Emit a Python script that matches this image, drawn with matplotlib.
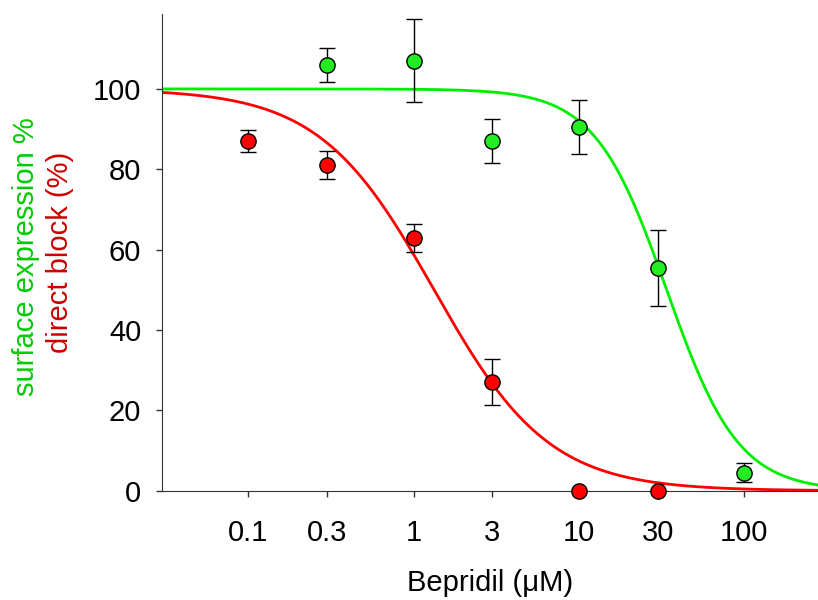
import numpy as np
import matplotlib.pyplot as plt

plt.rcParams['font.family'] = ['Liberation Sans', 'DejaVu Sans']

# concentrations (uM)
conc_green = [0.3, 1, 3, 10, 30, 100]
surface = [106, 107, 87, 90.5, 55.5, 4.5]
surface_err = [4.3, 10.3, 5.5, 6.7, 9.5, 2.3]

conc_red = [0.1, 0.3, 1, 3, 10, 30]
block = [87, 81, 63, 27, 0, 0]
block_err = [2.7, 3.5, 3.5, 5.7, 0, 0]

tick_vals = [0.1, 0.3, 1, 3, 10, 30, 100]
tick_labels = ['0.1', '0.3', '1', '3', '10', '30', '100']

# fitted Hill curves (IC50, slope)
fit_green = (34.0, 2.0)
fit_red = (1.33, 1.25)


def hill(x, ic50, n):
    return 100.0 / (1.0 + (x / ic50) ** n)


fig = plt.figure(figsize=(8.18, 6), dpi=100)
ax = fig.add_axes([0.198, 0.182, 0.802, 0.795])

xx = np.logspace(np.log10(0.03), np.log10(300), 400)
ax.plot(xx, hill(xx, *fit_green), color='#00ee00', lw=2, zorder=2)
ax.plot(xx, hill(xx, *fit_red), color='#ff0000', lw=2, zorder=2)

ax.errorbar(conc_green, surface, yerr=surface_err, fmt='none', ecolor='black',
            elinewidth=1, capsize=5.5, capthick=1, zorder=3)
ax.errorbar(conc_red, block, yerr=block_err, fmt='none', ecolor='black',
            elinewidth=1, capsize=5.5, capthick=1, zorder=3)
ax.plot(conc_green, surface, 'o', ms=11, mfc='#22ee22', mec='black', mew=1, zorder=4, clip_on=False)
ax.plot(conc_red, block, 'o', ms=11, mfc='#ff0000', mec='black', mew=1, zorder=4, clip_on=False)

ax.set_xscale('log')
ax.set_xlim(0.03, 280)
ax.set_ylim(0, 118.7)
ax.set_xticks(tick_vals)
ax.set_xticklabels(tick_labels)
ax.minorticks_off()
ax.set_yticks([0, 20, 40, 60, 80, 100])
ax.tick_params(labelsize=21, length=4, width=1, color='#333333')
ax.tick_params(axis='x', pad=16)
ax.tick_params(axis='y', pad=11)

for s in ['top', 'right']:
    ax.spines[s].set_visible(False)
for s in ['left', 'bottom']:
    ax.spines[s].set_color('#333333')

ax.set_xlabel('Bepridil (\u03bcM)', fontsize=21, labelpad=16)
fig.text(0.032, 0.572, 'surface expression %', rotation=90, color='#00cc00',
         fontsize=21, ha='center', va='center')
fig.text(0.073, 0.58, 'direct block (%)', rotation=90, color='#cc0000',
         fontsize=21, ha='center', va='center')

fig.savefig('out.png', dpi=100)
